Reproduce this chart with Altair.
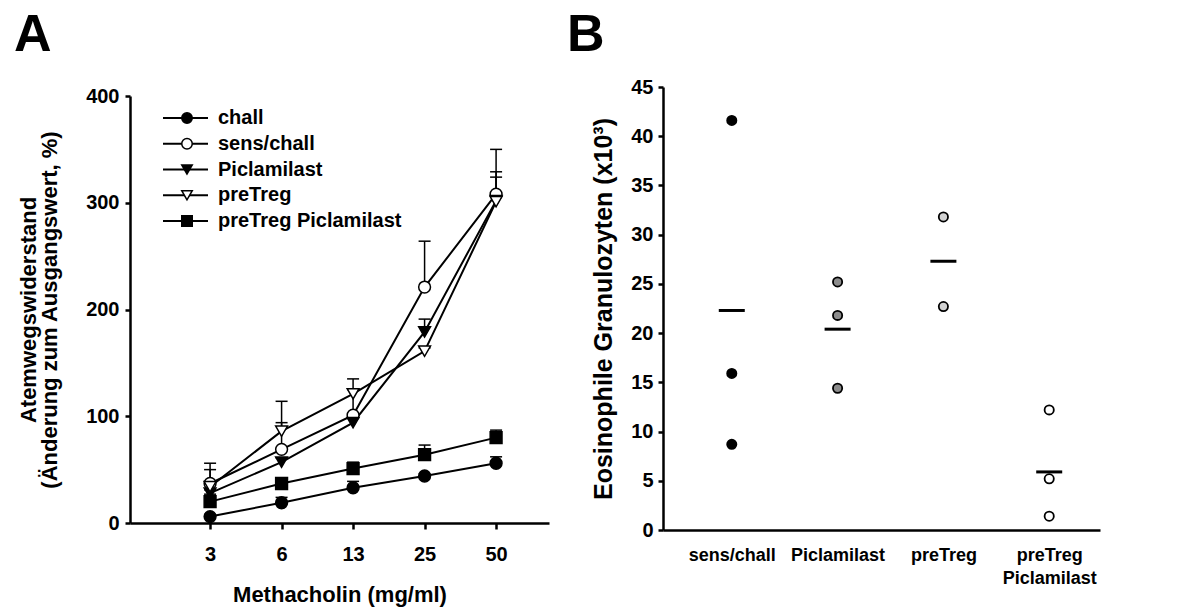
import json
import altair as alt
import pandas as pd

# ---------------- Panel A data ----------------
doses = ["3", "6", "13", "25", "50"]
series = ["chall", "sens/chall", "Piclamilast", "preTreg", "preTreg Piclamilast"]
chall_mean = [6, 19, 33, 44, 56]
chall_err = [2, 5, 6, 2, 6]
sens_chall_mean = [37, 69, 101, 221, 308]
sens_chall_err = [19, 25, 24, 43, 42]
piclamilast_mean = [28, 57, 94, 179, 302]
piclamilast_err = [3, 4, 4, 12, 22]
pretreg_mean = [34, 86, 121, 161, 301]
pretreg_err = [16, 28, 14, 3, 28]
pretreg_pic_mean = [20, 37, 51, 64, 80]
pretreg_pic_err = [7, 2, 6, 9, 7]

means_all = [chall_mean, sens_chall_mean, piclamilast_mean, pretreg_mean, pretreg_pic_mean]
errs_all = [chall_err, sens_chall_err, piclamilast_err, pretreg_err, pretreg_pic_err]

# ---------------- Panel B data ----------------
groups = ["sens/chall", "Piclamilast", "preTreg", "preTreg Piclamilast"]
sens_chall_vals = [41.6, 15.9, 8.7]
piclamilast_vals = [25.2, 21.8, 14.4]
pretreg_vals = [31.8, 22.7]
pretreg_pic_vals = [12.2, 5.2, 1.4]
group_means = [22.3, 20.4, 27.3, 5.9]
group_fills = ["#000000", "#8c8c8c", "#d2d2d2", "#ffffff"]

FONT = "Liberation Sans"

rows = []
for s, m, e in zip(series, means_all, errs_all):
    for i, (mv, ev) in enumerate(zip(m, e)):
        rows.append({"series": s, "dose_idx": i, "mean": mv, "upper": mv + ev})
dfA = pd.DataFrame(rows)
dfL = pd.DataFrame({"series": series})

shape_scale = alt.Scale(domain=series,
                        range=["circle", "circle", "triangle-down", "triangle-down", "square"])
fill_scale = alt.Scale(domain=series, range=["black", "white", "black", "white", "black"])

xA_axis = alt.Axis(values=list(range(len(doses))),
                   labelExpr=f"{json.dumps(doses)}[datum.value]",
                   title="Methacholin (mg/ml)", labelPadding=15, titlePadding=20,
                   tickSize=6, labelFontSize=20, titleFontSize=22)
yA_axis = alt.Axis(values=[0, 100, 200, 300, 400],
                   title=["Atemwegswiderstand", "(Änderung zum Ausgangswert, %)"],
                   labelPadding=6, titlePadding=24, titleLineHeight=21,
                   labelFontSize=20, titleFontSize=22)


def xA(field="dose_idx"):
    return alt.X(f"{field}:Q", scale=alt.Scale(domain=[-1.12, 4.74], nice=False, zero=False),
                 axis=xA_axis)


def yA(field):
    return alt.Y(f"{field}:Q", scale=alt.Scale(domain=[0, 400], range=[436, 9], nice=False),
                 axis=yA_axis)


baseA = alt.Chart(dfA)
lines = baseA.mark_line(color="black", strokeWidth=2).encode(
    x=xA(), y=yA("mean"), detail="series:N")
err_rules = baseA.mark_rule(color="black", strokeWidth=1.5, opacity=1).encode(
    x=xA(), y=yA("mean"), y2="upper:Q")
err_caps = baseA.mark_tick(color="black", thickness=1.5, size=12, orient="horizontal", opacity=1).encode(
    x=xA(), y=yA("upper"))
pointsA = baseA.mark_point(filled=True, size=140, stroke="black", strokeWidth=1.5, opacity=1).encode(
    x=xA(), y=yA("mean"),
    shape=alt.Shape("series:N", scale=shape_scale, legend=None),
    fill=alt.Fill("series:N", scale=fill_scale, legend=None))

yL = alt.Y("series:N", scale=alt.Scale(type="point", domain=series, range=[31, 134], padding=0),
           axis=None)
leg_rule = alt.Chart(dfL).mark_rule(color="black", strokeWidth=2).encode(
    x=alt.value(33), x2=alt.value(78), y=yL)
leg_pts = alt.Chart(dfL).mark_point(filled=True, size=110, stroke="black", strokeWidth=1.5, opacity=1).encode(
    x=alt.value(57), y=yL,
    shape=alt.Shape("series:N", scale=shape_scale, legend=None),
    fill=alt.Fill("series:N", scale=fill_scale, legend=None))
leg_text = alt.Chart(dfL).mark_text(align="left", baseline="middle", font=FONT, fontSize=20,
                                    fontWeight="bold", color="black").encode(
    x=alt.value(88), y=yL, text="series:N")

letterA = alt.Chart(pd.DataFrame({"t": ["A"]})).mark_text(
    align="left", baseline="alphabetic", font=FONT, fontSize=52, fontWeight="bold", color="black"
).encode(x=alt.value(-116), y=alt.value(-36), text="t:N")

panelA = alt.layer(
    alt.layer(lines, err_rules, err_caps, pointsA),
    alt.layer(leg_rule, leg_pts, leg_text),
    letterA,
).resolve_scale(y="independent").properties(width=419, height=436)

# ---------------- Panel B ----------------
rowsB = []
for gi, (g, vals) in enumerate(zip(groups, [sens_chall_vals, piclamilast_vals, pretreg_vals, pretreg_pic_vals])):
    for v in vals:
        rowsB.append({"group": g, "idx": gi, "value": v})
dfB = pd.DataFrame(rowsB)
dfM = pd.DataFrame({"group": groups, "idx": list(range(len(groups))), "value": group_means})

xB_axis = alt.Axis(values=list(range(len(groups))),
                   labelExpr=f"split({json.dumps(groups)}[datum.value], ' ')",
                   ticks=False, title=None, labelPadding=16, labelLineHeight=23,
                   labelFontSize=18)
yB_axis = alt.Axis(values=list(range(0, 50, 5)), title="Eosinophile Granulozyten (x10³)",
                   labelPadding=5, titlePadding=14, tickSize=5,
                   labelFontSize=20, titleFontSize=25)
xB = alt.X("idx:Q", scale=alt.Scale(domain=[-0.65, 3.48], nice=False, zero=False), axis=xB_axis)
yB = alt.Y("value:Q", scale=alt.Scale(domain=[0, 45], nice=False), axis=yB_axis)

mean_ticks = alt.Chart(dfM).mark_tick(color="black", thickness=3, size=26, orient="horizontal",
                                      opacity=1).encode(x=xB, y=yB)
pointsB = alt.Chart(dfB).mark_point(filled=True, shape="circle", size=85, stroke="black",
                                    strokeWidth=1.8, opacity=1).encode(
    x=xB, y=yB,
    fill=alt.Fill("group:N", scale=alt.Scale(domain=groups, range=group_fills), legend=None))
letterB = alt.Chart(pd.DataFrame({"t": ["B"]})).mark_text(
    align="left", baseline="alphabetic", font=FONT, fontSize=52, fontWeight="bold", color="black"
).encode(x=alt.value(-96), y=alt.value(-36), text="t:N")

panelB = alt.layer(pointsB, mean_ticks, letterB).properties(width=437, height=443)

chart = alt.hconcat(panelA, panelB, spacing=18).resolve_scale(
    fill="independent", shape="independent"
).configure(
    padding={"left": 6, "top": 1, "right": 5, "bottom": 5}
).configure_view(stroke=None).configure_axis(
    domainColor="black", domainWidth=2.5, tickColor="black", tickWidth=2.5,
    labelFont=FONT, labelFontWeight="bold", labelColor="black",
    titleFont=FONT, titleFontWeight="bold", titleColor="black",
    grid=False,
)

chart.save("out.html", embed_options={"renderer": "svg", "actions": False})
